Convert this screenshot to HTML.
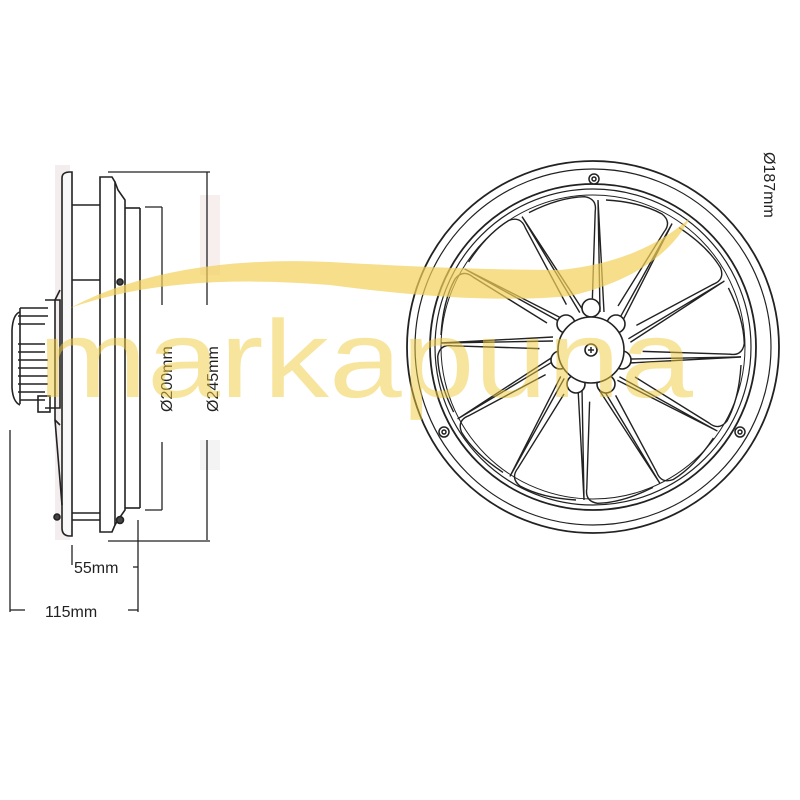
<!DOCTYPE html>
<html><head><meta charset="utf-8"><style>
html,body{margin:0;padding:0;background:#fff;}
svg{display:block;}
text{font-family:"Liberation Sans",sans-serif;}
</style></head><body>
<svg width="800" height="800" viewBox="0 0 800 800" xmlns="http://www.w3.org/2000/svg">
<rect width="800" height="800" fill="#fff"/>
<rect x="55" y="165" width="15" height="375" fill="#f3eded"/>
<rect x="200" y="195" width="20" height="80" fill="#f7eeee"/>
<rect x="200" y="440" width="20" height="30" fill="#f3f3f3"/>

<g fill="none" stroke="#222" stroke-width="1.6">
  <path d="M62 178 L62 528 Q62 536 70 536 L72 536 L72 172 L70 172 Q62 172 62 178Z" fill="#f8f8f8"/>
  <line x1="72" y1="205" x2="100" y2="205"/>
  <line x1="72" y1="280" x2="100" y2="280"/>
  <line x1="72" y1="513" x2="100" y2="513"/>
  <line x1="72" y1="520" x2="100" y2="520"/>
  <path d="M100 177 L100 532 L112 532 L115 525 L115 182 L112 177 Z"/>
  <path d="M115 182 L118 190 L125 200 L125 510 L118 520 L115 525"/>
  <line x1="125" y1="208" x2="140" y2="208"/>
  <line x1="125" y1="508" x2="140" y2="508"/>
  <line x1="140" y1="208" x2="140" y2="508"/>
  <circle cx="120" cy="282" r="3" fill="#444"/>
  <circle cx="120" cy="520" r="3.5" fill="#444"/>
  <circle cx="57" cy="517" r="3" fill="#444"/>
  <path d="M60 290 L55 300 L55 420 L60 425"/>
  <path d="M45 300 L60 300 L60 408 L45 408"/>
  <path d="M20 312 Q13 314 12 330 L12 388 Q13 402 20 405"/>
  <path d="M20 308 L48 308 M18 316 L48 316 M18 324 L45 324 M18 344 L45 344 M18 352 L45 352 M18 360 L48 360 M18 368 L48 368 M18 376 L48 376 M18 384 L48 384 M18 392 L45 392 M20 400 L45 400"/>
  <line x1="20" y1="308" x2="20" y2="404"/>
  <rect x="38" y="396" width="12" height="16"/>
  <line x1="55" y1="420" x2="62" y2="505"/>
</g>
<g stroke="#222" stroke-width="1.3" fill="none">
  <line x1="108" y1="172" x2="210" y2="172"/>
  <line x1="207" y1="172" x2="207" y2="305"/>
  <line x1="207" y1="440" x2="207" y2="540"/>
  <line x1="108" y1="541" x2="210" y2="541"/>
  <line x1="145" y1="207" x2="162" y2="207"/>
  <line x1="162" y1="207" x2="162" y2="305"/>
  <line x1="162" y1="442" x2="162" y2="510"/>
  <line x1="145" y1="510" x2="162" y2="510"/>
  <line x1="72" y1="545" x2="72" y2="565"/>
  <line x1="138" y1="520" x2="138" y2="612"/>
  <line x1="133" y1="567" x2="138" y2="567"/>
  <line x1="10" y1="430" x2="10" y2="612"/>
  <line x1="10" y1="610" x2="25" y2="610"/>
  <line x1="128" y1="610" x2="138" y2="610"/>
</g>
<text x="74" y="573" font-size="16" fill="#222">55mm</text>
<text x="45" y="617" font-size="16" fill="#222">115mm</text>
<text transform="translate(172,412) rotate(-90)" font-size="16" fill="#222">Ø200mm</text>
<text transform="translate(218,412) rotate(-90)" font-size="16" fill="#222">Ø245mm</text>
<text transform="translate(764,152) rotate(90)" font-size="16" fill="#222">Ø187mm</text>

<g fill="none" stroke="#222" stroke-width="1.8">
  <circle cx="593" cy="347" r="186"/>
  <circle cx="593" cy="347" r="178" stroke-width="1.2"/>
  <circle cx="593" cy="347" r="163"/>
  <circle cx="593" cy="347" r="158" stroke-width="1.2"/>
  <circle cx="593" cy="347" r="152" stroke-width="1"/>
</g>
<g fill="#fff" stroke="#222" stroke-width="1.5">
  <circle cx="594" cy="179" r="5"/><circle cx="594" cy="179" r="2"/>
  <circle cx="444" cy="432" r="5"/><circle cx="444" cy="432" r="2"/>
  <circle cx="740" cy="432" r="5"/><circle cx="740" cy="432" r="2"/>
</g>
<defs>
  <g id="blade">
    <path d="M600 312 L598 200 M604 312 L598 200" stroke="#222" stroke-width="1.4" fill="none"/>
    <path d="M606 200 Q640 202 662 214 Q672 222 664 232 L618 306" stroke="#222" stroke-width="1.4" fill="none"/>
  </g>
</defs>
<g>
  <use href="#blade" transform="rotate(0 591 350)"/>
  <use href="#blade" transform="rotate(30 591 350)"/>
  <use href="#blade" transform="rotate(60 591 350)"/>
  <use href="#blade" transform="rotate(90 591 350)"/>
  <use href="#blade" transform="rotate(120 591 350)"/>
  <use href="#blade" transform="rotate(150 591 350)"/>
  <use href="#blade" transform="rotate(180 591 350)"/>
  <use href="#blade" transform="rotate(210 591 350)"/>
  <use href="#blade" transform="rotate(240 591 350)"/>
  <use href="#blade" transform="rotate(270 591 350)"/>
  <use href="#blade" transform="rotate(300 591 350)"/>
  <use href="#blade" transform="rotate(330 591 350)"/>
</g>
<g fill="#fff" stroke="#222" stroke-width="1.6">
  <circle cx="566" cy="324" r="9"/><circle cx="616" cy="324" r="9"/>
  <circle cx="560" cy="360" r="9"/><circle cx="622" cy="360" r="9"/>
  <circle cx="576" cy="384" r="9"/><circle cx="606" cy="384" r="9"/>
  <circle cx="591" cy="308" r="9"/>
  <circle cx="591" cy="350" r="33"/>
  <circle cx="591" cy="350" r="6"/>
</g>
<line x1="588" y1="350" x2="594" y2="350" stroke="#222" stroke-width="1.5"/>
<line x1="591" y1="347" x2="591" y2="353" stroke="#222" stroke-width="1.5"/>

<path d="M70 308 Q170 255 330 262 Q470 270 560 270 Q640 262 690 218 Q660 275 570 296 Q480 305 330 285 Q170 272 70 308Z" fill="#f2d05a" opacity="0.7"/>
<text x="38" y="397" font-size="110" fill="#f0cc40" opacity="0.5" textLength="655" lengthAdjust="spacingAndGlyphs">markapuna</text>
</svg>
</body></html>
